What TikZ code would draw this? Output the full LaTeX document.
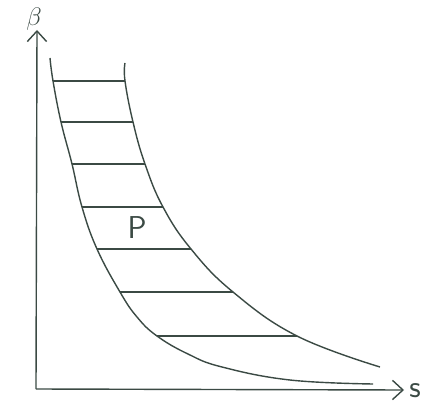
\documentclass[tikz,border=0pt]{standalone}
\usepackage{amsmath,amssymb}
\usepackage{xcolor}
\usepackage{tikz}
\usetikzlibrary{arrows.meta}
\definecolor{skInk}{HTML}{3B4A44}
\tikzset{
  axis/.style ={-{Straight Barb[length=6pt,width=11pt,line width=0.8pt]}, line width=0.8pt, skInk},
  bound/.style={line width=0.8pt, skInk},
  rung/.style ={line width=0.8pt, skInk},
  lab/.style  ={text=skInk, inner sep=0pt, font=\sffamily\fontsize{18}{20}\selectfont},
}
\begin{document}
\begin{tikzpicture}[x=0.02cm, y=-0.02cm]
\useasboundingbox (0,0) rectangle (422,405);

% axes
\coordinate (O) at (36,389);
\coordinate (ytop) at (37,30);
\coordinate (xend) at (404,390);
\draw[axis] (O) -- (ytop);
\draw[axis] (O) -- (xend);
\node[lab, font=\fontsize{15}{17}\selectfont] (beta) at (34,19) {$\beta$};
\node[lab] (s) at (415,391) {s};

% end points of the rungs on the two curves
\foreach \n/\y/\l/\r in {1/81/53/125, 2/122/61/133, 3/164/72/145, 4/207/82/163,
                         5/249/97/191, 6/292/120/233, 7/336/157/297}{
  \coordinate (l\n) at (\l,\y);
  \coordinate (r\n) at (\r,\y);
}

% the two boundary curves
\draw[bound] plot[smooth, tension=0.7] coordinates {(50,58) (l1) (l2) (l3) (l4) (l5) (l6) (137,317) (l7) (188,354) (222,367) (290,380) (373,384)};
\draw[bound] plot[smooth, tension=0.7] coordinates {(125,63) (r1) (r2) (r3) (r4) (r5) (r6) (r7) (380,367)};

% rungs
\foreach \n in {1,...,7}{\draw[rung] (l\n) -- (r\n);}

\node[lab] (P) at (137,228) {P};
\end{tikzpicture}
\end{document}
